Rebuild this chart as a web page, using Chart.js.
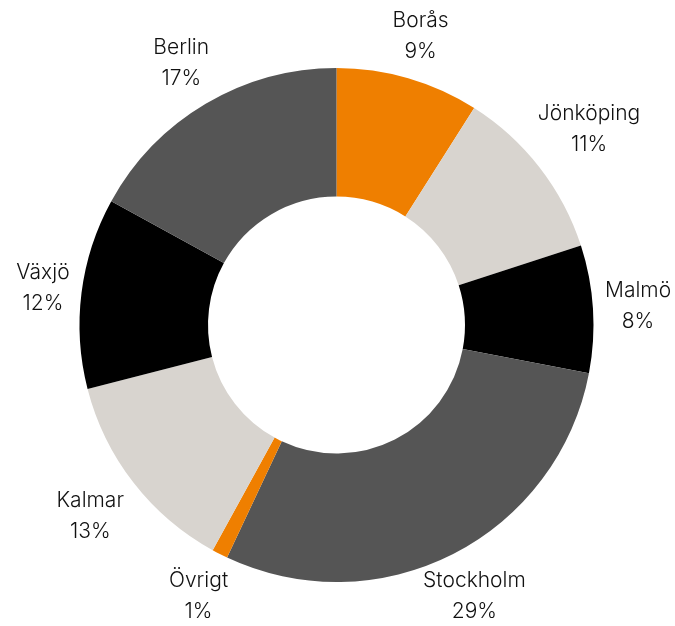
<!DOCTYPE html>
<html>
<head>
<meta charset="utf-8">
<script src="https://cdn.jsdelivr.net/npm/chart.js@4"></script>
<style>
  html, body { margin: 0; padding: 0; background: #fff; }
  #wrap { width: 675px; height: 626px; }
</style>
</head>
<body>
<div id="wrap"><canvas id="graf"></canvas></div>
<script>
const orter = ["Borås", "Jönköping", "Malmö", "Stockholm", "Övrigt", "Kalmar", "Växjö", "Berlin"];
const andelar = [9, 11, 8, 29, 1, 13, 12, 17];
const farger = ["#EF7F00", "#D8D4CF", "#000000", "#555555", "#EF7F00", "#D8D4CF", "#000000", "#555555"];

// etiketter utanför ringen, två rader (namn + procent)
const etiketter = {
    id: 'etiketter',
    afterDatasetsDraw(chart) {
        const ctx = chart.ctx;
        const meta = chart.getDatasetMeta(0);
        ctx.save();
        ctx.font = '300 21px Inter, "Noto Sans", sans-serif';
        ctx.fillStyle = '#111';
        ctx.textAlign = 'center';
        ctx.textBaseline = 'middle';
        meta.data.forEach((arc, i) => {
            const p = arc.getProps(['x', 'y', 'startAngle', 'endAngle', 'outerRadius'], true);
            const mitt = (p.startAngle + p.endAngle) / 2;
            const rad1 = orter[i];
            const rad2 = andelar[i] + '%';
            const hw = Math.max(ctx.measureText(rad1).width, ctx.measureText(rad2).width) / 2;
            const hh = 31;
            const c = Math.abs(Math.cos(mitt)), s = Math.abs(Math.sin(mitt));
            const kant = Math.min(c > 0.001 ? hw / c : 1e9, s > 0.001 ? hh / s : 1e9);
            const d = p.outerRadius + 12 + kant;
            const x = p.x + Math.cos(mitt) * d;
            const y = p.y + Math.sin(mitt) * d;
            ctx.fillText(rad1, x, y - 15);
            ctx.fillText(rad2, x, y + 16);
        });
        ctx.restore();
    }
};

new Chart(document.getElementById('graf'), {
    type: 'doughnut',
    data: {
        labels: orter,
        datasets: [{
            data: andelar,
            backgroundColor: farger,
            borderWidth: 0
        }]
    },
    options: {
        responsive: true,
        maintainAspectRatio: false,
        animation: false,
        cutout: '50%',
        layout: { padding: { top: 68, bottom: 44, left: 79, right: 81 } },
        plugins: {
            legend: { display: false },
            tooltip: { enabled: false }
        }
    },
    plugins: [etiketter]
});
</script>
</body>
</html>
